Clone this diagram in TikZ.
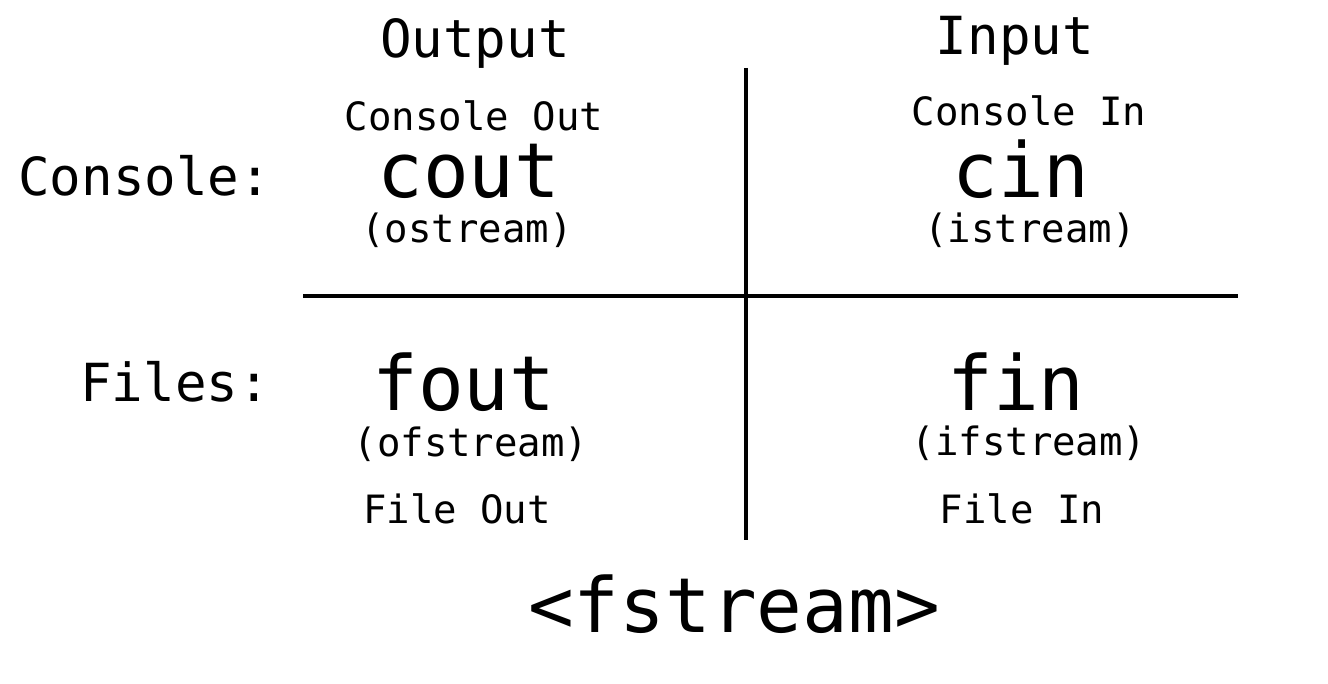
\documentclass[tikz,border=0pt]{standalone}
\usepackage{fontspec}
\setmainfont{DejaVu Sans Mono}
\begin{document}
\begin{tikzpicture}[x=1pt,y=-1pt,
  big/.style={font=\fontsize{52.5}{60}\selectfont,inner sep=0pt,anchor=base},
  small/.style={font=\fontsize{39}{45}\selectfont,inner sep=0pt,anchor=base},
  paren/.style={small,text height=0.7em},
  code/.style={font=\fontsize{76}{86}\selectfont,inner sep=0pt,anchor=base,text depth=0pt},
  rule/.style={line width=4pt}]
\useasboundingbox[fill=white] (0,0) rectangle (1328,684);
\node[big] (out) at (475,58) {Output};
\node[big] (in) at (1015,55) {Input};
\node[small] (cono) at (474,131) {Console Out};
\node[code] (cout) at (469,198) {cout};
\node[paren] (ostr) at (467,243) {(ostream)};
\node[big,anchor=base west] (con) at (18,196) {Console:};
\node[small] (coni) at (1029,126) {Console In};
\node[code] (cin) at (1021,198) {cin};
\node[paren] (istr) at (1030,243) {(istream)};
\node[big,anchor=base west] (files) at (80,402) {Files:};
\node[code] (fout) at (464,410) {fout};
\node[paren] (ofstr) at (471,456) {(ofstream)};
\node[small] (fo) at (457,523) {File Out};
\node[code] (fin) at (1016,410) {fin};
\node[paren] (ifstr) at (1029,455) {(ifstream)};
\node[small] (fi) at (1022,523) {File In};
\node[code] (fs) at (734,632) {<fstream>};
\coordinate (vt) at (746,68);
\coordinate (vb) at (746,540);
\coordinate (hl) at (303,296);
\coordinate (hr) at (1238,296);
\draw[rule] (vt) -- (vb);
\draw[rule] (hl) -- (hr);
\end{tikzpicture}
\end{document}
